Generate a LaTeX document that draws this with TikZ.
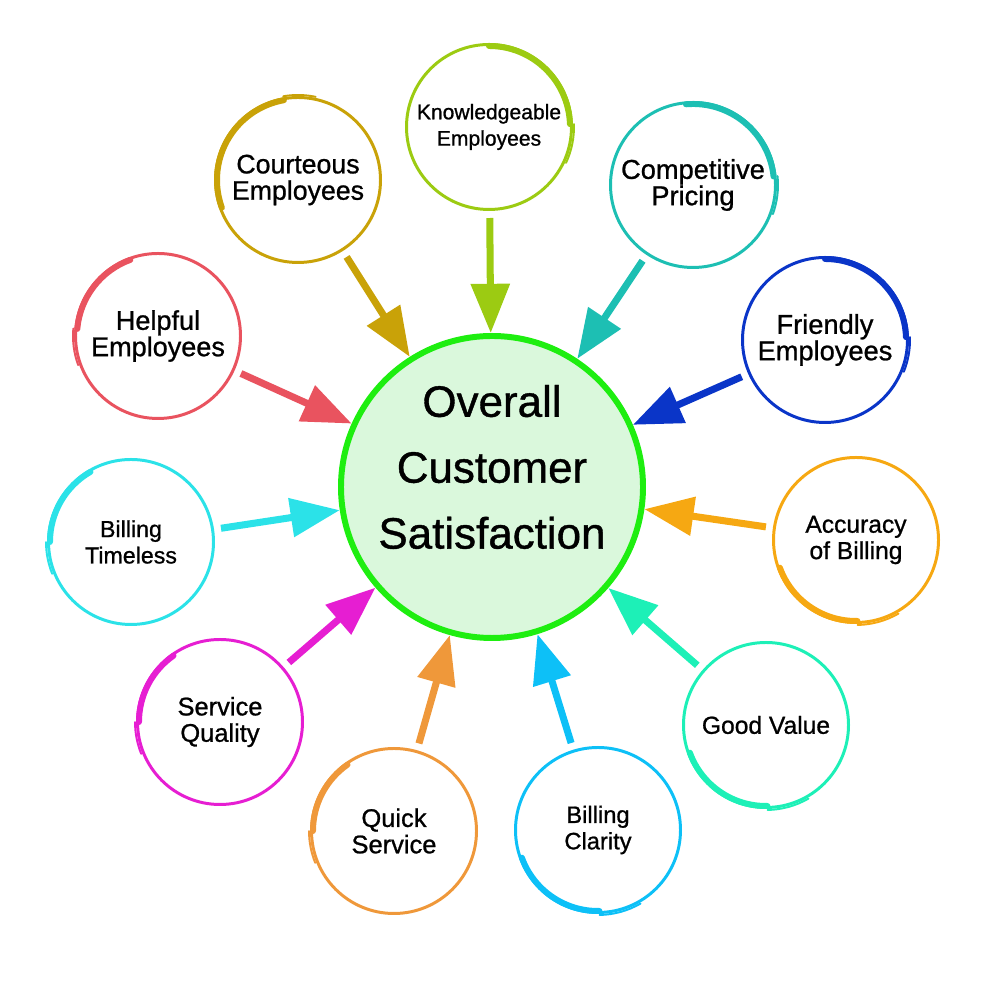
\documentclass[tikz,border=0pt]{standalone}
\usepackage{fontspec}
\setmainfont{Liberation Sans}[FakeBold=0.9]
\usetikzlibrary{arrows.meta}
\definecolor{CSgreen}{HTML}{1EEE10}
\definecolor{CShub}{HTML}{DAF8DC}
\definecolor{CSoliv}{HTML}{C9A208}
\definecolor{CSlime}{HTML}{9CCB12}
\definecolor{CSteal}{HTML}{1DBFB3}
\definecolor{CSblue}{HTML}{0A35C8}
\definecolor{CSred}{HTML}{E9535F}
\definecolor{CScyan}{HTML}{2BE2E8}
\definecolor{CSgold}{HTML}{F6A812}
\definecolor{CSmint}{HTML}{1DF0B7}
\definecolor{CSmagenta}{HTML}{E61ED2}
\definecolor{CSorange}{HTML}{EF983A}
\definecolor{CSsky}{HTML}{0DC0F7}
\tikzset{
  hub/.style={circle, draw=CSgreen, fill=CShub, line width=3.4pt,
    minimum size=6.04cm},
  bubble/.style={circle, line width=1.7pt, minimum size=3.3cm,
    inner sep=0pt, align=center},
  feed/.style={-{Triangle[length=28pt,width=21.5pt]}, line width=4pt,
    shorten <=4pt}
}
% bubble with a brush-like heavy stroke and a thin overlapping tail
\newcommand{\bubble}[8][15]{%
  \node[bubble, draw=#4, font=\fontsize{#1}{15}\selectfont] (#2) at (#3) {#5};
  \draw[#4, line width=3.4pt, line cap=round]
  ([shift={(#6:1.62cm)}]#2.center) arc[start angle=#6, end angle=#7, radius=1.62cm];
  \draw[#4, line width=1.1pt, line cap=round]
  ([shift={(#7:1.70cm)}]#2.center) arc[start angle=#7, end angle=#8, radius=1.70cm];}

\begin{document}
\begin{tikzpicture}[x=0.2mm, y=0.2mm]
  \useasboundingbox (0,0) rectangle (1000,986);

  % centre
  \node[hub] (ocs) at (492,499) {};
  \node[font=\fontsize{25}{37.5}\selectfont, align=center] (ocstext)
    at ([yshift=4mm]ocs.center) {Overall\\Customer\\Satisfaction};

  % the eleven factors
  \bubble[15.2]{cou}{298,806}{CSoliv}{Courteous\\Employees}{200}{100}{78}
  \bubble[12]{kno}{489,859}{CSlime}{Knowledgeable\\Employees}{90}{2}{-25}
  \bubble[15.5]{com}{693,801}{CSteal}{Competitive\\Pricing}{95}{6}{-20}
  \bubble[15.5]{fri}{825,646}{CSblue}{Friendly\\Employees}{90}{2}{-22}
  \bubble[14]{acc}{856,446}{CSgold}{Accuracy\\of Billing}{200}{271}{300}
  \bubble[14]{gdv}{766,261}{CSmint}{Good Value}{200}{271}{300}
  \bubble[13.5]{clr}{598,156}{CSsky}{Billing\\Clarity}{200}{271}{300}
  \bubble[14.5]{qck}{394,155}{CSorange}{Quick\\Service}{125}{180}{202}
  \bubble[14.5]{srv}{220,264}{CSmagenta}{Service\\Quality}{125}{180}{202}
  \bubble[13.2]{tml}{131,444}{CScyan}{Billing\\Timeless}{120}{180}{202}
  \bubble[15.4]{hlp}{158,650}{CSred}{Helpful\\Employees}{110}{175}{200}

  % arrows into the centre
  \foreach \src/\col in {cou/CSoliv, kno/CSlime, com/CSteal, fri/CSblue,
    acc/CSgold, gdv/CSmint, clr/CSsky, qck/CSorange, srv/CSmagenta,
    tml/CScyan, hlp/CSred}
    \draw[feed, \col] (\src) -- (ocs);

\end{tikzpicture}
\end{document}
